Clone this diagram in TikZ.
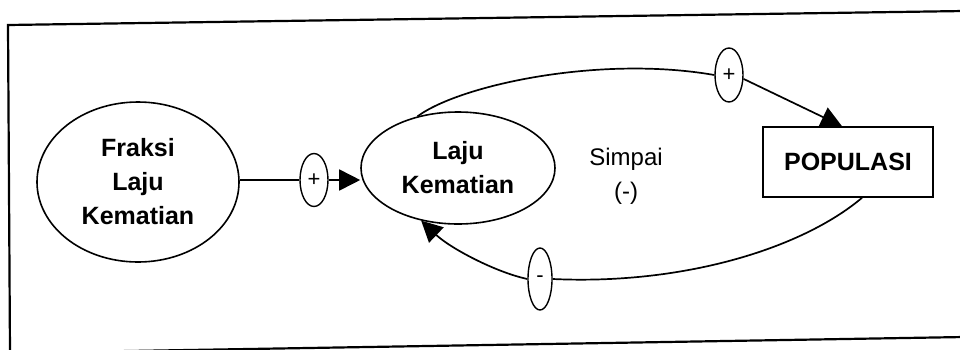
\documentclass[tikz,border=0pt]{standalone}
\usepackage{fontspec}
\setmainfont{Liberation Sans}
\usetikzlibrary{shapes.geometric,arrows.meta}
\begin{document}
\begin{tikzpicture}[x=1pt,y=-1pt,
  var/.style={draw,ellipse,inner sep=0pt,line width=1.6pt,align=center,
    font=\fontsize{25}{34}\selectfont\bfseries},
  stock/.style={draw,rectangle,inner sep=0pt,line width=1.6pt,
    font=\fontsize{25}{34}\selectfont\bfseries},
  sign/.style={draw,ellipse,inner sep=0pt,line width=1.4pt,
    font=\fontsize{22}{22}\selectfont},
  link/.style={line width=1.7pt},
  tip/.style={-{Triangle[length=21pt,width=21pt]}},
  frame/.style={line width=2.2pt}]
\useasboundingbox (0,0) rectangle (960,349);
\begin{scope}
\clip (0,0) rectangle (960,349);
\coordinate (tl) at (8,25);
\coordinate (tr) at (964,11);
\coordinate (bl) at (10,353);
\coordinate (br) at (964,337);
\draw[frame] (tr) -- (tl) -- (bl) -- (br);
\end{scope}

\node[var,minimum width=202pt,minimum height=160pt] (fraksi) at (138,182) {Fraksi\\Laju\\Kematian};
\node[var,minimum width=194pt,minimum height=112pt] (laju) at (458,168) {Laju\\Kematian};
\node[stock,minimum width=170pt,minimum height=70pt] (pop) at (848,162) {POPULASI};
\node[align=center,font=\fontsize{24}{34}\selectfont] (simpai) at (626,176) {Simpai\\(-)};

\node[sign,minimum width=28pt,minimum height=53pt] (s1) at (314,180) {+};
\node[sign,minimum width=28pt,minimum height=54pt] (s2) at (729,75) {+};
\node[sign,minimum width=24pt,minimum height=62pt] (s3) at (540,279) {-};

\draw[link] (fraksi.east |- s1.west) -- (s1.west);
\draw[link,tip] (s1.east) -- (laju.west |- s1.east);
\draw[link] (laju.128) .. controls (460,85) and (600,55) .. (s2.west);
\draw[link,tip] (s2.-15) -- ([xshift=-6pt]pop.north);
\draw[link] ([xshift=14pt]pop.south) .. controls (800,250) and (680,285) .. (s3.east);
\draw[link,tip] (s3.west) .. controls (495,272) and (450,248) .. (laju.235);
\end{tikzpicture}
\end{document}
